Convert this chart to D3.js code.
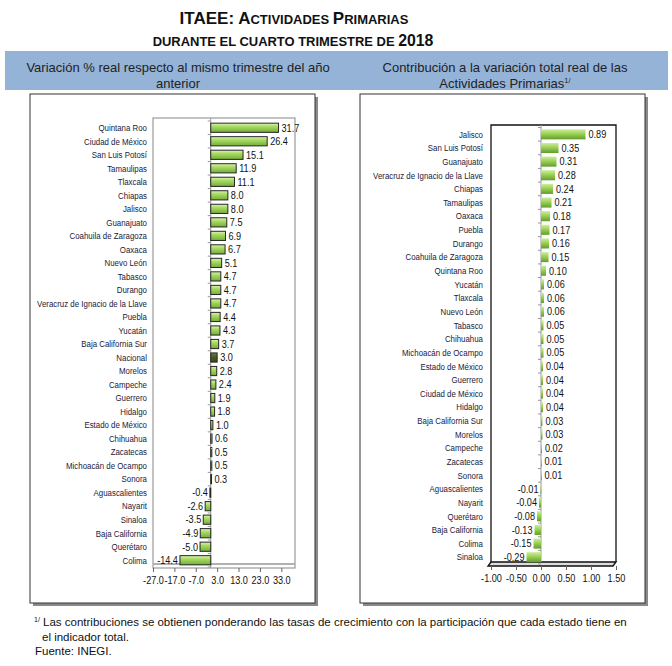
<!DOCTYPE html>
<html>
<head>
<meta charset="utf-8">
<script src="https://cdn.jsdelivr.net/npm/d3@7"></script>
<style>
  body { margin: 0; background: #fff; }
  svg { display: block; }
</style>
</head>
<body>
<svg id="chart" width="672" height="666"></svg>
<script>
// left panel: variación % real
const leftStates = ["Quintana Roo","Ciudad de México","San Luis Potosí","Tamaulipas","Tlaxcala","Chiapas","Jalisco","Guanajuato","Coahuila de Zaragoza","Oaxaca","Nuevo León","Tabasco","Durango","Veracruz de Ignacio de la Llave","Puebla","Yucatán","Baja California Sur","Nacional","Morelos","Campeche","Guerrero","Hidalgo","Estado de México","Chihuahua","Zacatecas","Michoacán de Ocampo","Sonora","Aguascalientes","Nayarit","Sinaloa","Baja California","Querétaro","Colima"]
const leftValues = [31.7,26.4,15.1,11.9,11.1,8.0,8.0,7.5,6.9,6.7,5.1,4.7,4.7,4.7,4.4,4.3,3.7,3.0,2.8,2.4,1.9,1.8,1.0,0.6,0.5,0.5,0.3,-0.4,-2.6,-3.5,-4.9,-5.0,-14.4]
const leftTicks = [-27,-17,-7,3,13,23,33]

// right panel: contribución
const rightStates = ["Jalisco","San Luis Potosí","Guanajuato","Veracruz de Ignacio de la Llave","Chiapas","Tamaulipas","Oaxaca","Puebla","Durango","Coahuila de Zaragoza","Quintana Roo","Yucatán","Tlaxcala","Nuevo León","Tabasco","Chihuahua","Michoacán de Ocampo","Estado de México","Guerrero","Ciudad de México","Hidalgo","Baja California Sur","Morelos","Campeche","Zacatecas","Sonora","Aguascalientes","Nayarit","Querétaro","Baja California","Colima","Sinaloa"]
const rightValues = [0.89,0.35,0.31,0.28,0.24,0.21,0.18,0.17,0.16,0.15,0.10,0.06,0.06,0.06,0.05,0.05,0.05,0.04,0.04,0.04,0.04,0.03,0.03,0.02,0.01,0.01,-0.01,-0.04,-0.08,-0.13,-0.15,-0.29]
const rightTicks = [-1,-0.5,0,0.5,1,1.5]

const FONT = "'Liberation Sans',Arial,sans-serif"
const NX = 0.83   // horizontal squeeze, stands in for Arial Narrow
const loc = d3.formatLocale({decimal:".", thousands:",", grouping:[3], currency:["$",""], minus:"-"})
const svg = d3.select("#chart")
const defs = svg.append("defs")

function grad(id, stops){
  const g = defs.append("linearGradient").attr("id",id)
    .attr("x1",0).attr("y1",0).attr("x2",0).attr("y2",1)
  stops.forEach(s => g.append("stop").attr("offset",s[0]).attr("stop-color",s[1]))
}
grad("gLeft", [["0%","#dff5b5"],["35%","#a9dc66"],["100%","#74ad35"]])
grad("gNac", [["0%","#6f8240"],["40%","#4e5f24"],["100%","#3a4718"]])
grad("gRight", [["0%","#cdeea0"],["45%","#9bd155"],["100%","#629d2b"]])

/*
title and header band
*/
const title1 = svg.append("text").attr("x",294).attr("y",24).attr("text-anchor","middle")
  .style("font-family",FONT).style("font-weight","bold").attr("fill","#111")
;[["ITAEE: A",17],["CTIVIDADES ",13],["P",17],["RIMARIAS",13]].forEach(p =>
  title1.append("tspan").style("font-size",p[1]+"px").text(p[0]))
const title2 = svg.append("text").attr("transform","translate(293,46) scale(0.96,1)").attr("text-anchor","middle")
  .style("font-family",FONT).style("font-weight","bold").attr("fill","#111")
;[["DURANTE EL CUARTO TRIMESTRE DE ",13.5],["2018",16.5]].forEach(p =>
  title2.append("tspan").style("font-size",p[1]+"px").text(p[0]))

svg.append("rect").attr("x",5).attr("y",51).attr("width",663).attr("height",39).attr("fill","#95b3d7")

function header(x, lines){
  lines.forEach((l,i) => {
    const t = svg.append("text").attr("x",x).attr("y",72+i*16).attr("text-anchor","middle")
      .style("font-family",FONT).style("font-size","13px").attr("fill","#222")
    t.append("tspan").text(l[0])
    if(l[1]) t.append("tspan").attr("dy",-5).style("font-size","7.5px").text(l[1])
  })
}
header(178, [["Variación % real respecto al mismo trimestre del año"],["anterior"]])
header(505, [["Contribución a la variación total real de las"],["Actividades Primarias","1/"]])

// panel boxes with shadow
function box(x0,x1,y0,y1){
  svg.append("rect").attr("x",x0+3).attr("y",y0+3).attr("width",x1-x0).attr("height",y1-y0)
    .attr("fill","#8a8a8a")
  svg.append("rect").attr("x",x0).attr("y",y0).attr("width",x1-x0).attr("height",y1-y0)
    .attr("fill","#fff").attr("stroke","#333").attr("stroke-width",1)
}
box(30,315,94,603)
box(360,645,94,603)

/*
bar chart drawing
*/
function drawBars(opt){
  const g = svg.append("g")
  const x = d3.scaleLinear().domain(opt.domain).range([opt.left, opt.right])
  const y = d3.scaleBand().domain(opt.states).range([opt.bandTop, opt.bandBottom]).paddingInner(opt.pad).paddingOuter(opt.pad/2)
  const x0 = x(0)

  // frame
  if(opt.threeD){
    g.append("path").attr("d",`M${opt.left},${opt.bottom} L${opt.left},${opt.top} L${opt.right},${opt.top} L${opt.right},${opt.bottom}`)
      .attr("fill","none").attr("stroke","#111").attr("stroke-width",1.3)
    g.append("path").attr("d",`M${opt.left},${opt.bottom} L${opt.left-3},${opt.bottom+4} L${opt.right-3},${opt.bottom+4} L${opt.right},${opt.bottom} Z`)
      .attr("fill","#ddd").attr("stroke","#111").attr("stroke-width",1.3)
  } else {
    g.append("rect").attr("x",opt.left).attr("y",opt.top).attr("width",opt.right-opt.left).attr("height",opt.bottom-opt.top)
      .attr("fill","none").attr("stroke","#9a9a9a").attr("stroke-width",1.2)
    g.append("line").attr("x1",opt.left).attr("x2",opt.right).attr("y1",opt.bottom-4).attr("y2",opt.bottom-4)
      .attr("stroke","#b0b0b0").attr("stroke-width",2)
  }
  // zero line + category ticks
  g.append("line").attr("x1",x0).attr("x2",x0).attr("y1",opt.top).attr("y2",opt.bottom)
    .attr("stroke","#999").attr("stroke-width",1)
  const step = y.step()
  d3.range(opt.states.length+1).forEach(i => {
    const yy = opt.bandTop + i*step
    g.append("line").attr("x1",x0-3).attr("x2",x0).attr("y1",yy).attr("y2",yy).attr("stroke","#999")
  })

  const data = opt.states.map((s,i) => ({state:s, value:opt.values[i]}))
  g.selectAll(".bar").data(data).enter().append("rect")
    .attr("class","bar")
    .attr("x",d => Math.min(x(d.value), x0))
    .attr("y",d => y(d.state))
    .attr("width",d => Math.max(Math.abs(x(d.value)-x0), 0.8))
    .attr("height",y.bandwidth())
    .attr("fill",d => d.state == "Nacional" && opt.nacional ? "url(#gNac)" : opt.fill)
    .attr("stroke",opt.outline ? "#262626" : "none")
    .attr("stroke-width",1)

  // value labels
  g.selectAll(".val").data(data).enter().append("text")
    .attr("transform",d => {
      const tx = d.value >= 0 ? x(d.value)+3 : x(d.value)-2
      return `translate(${tx},${y(d.state)+y.bandwidth()/2+3.8}) scale(${NX},1)`
    })
    .attr("text-anchor",d => d.value >= 0 ? "start" : "end")
    .style("font-family",FONT).style("font-size","11px").attr("fill","#111")
    .text(d => loc.format(opt.fmt)(d.value))

  // category labels
  g.selectAll(".cat").data(data).enter().append("text")
    .attr("transform",d => `translate(${opt.labelX},${y(d.state)+y.bandwidth()/2+3.3}) scale(${NX},1)`)
    .attr("text-anchor","end")
    .style("font-family",FONT).style("font-size","9.5px").attr("fill","#1a1a3a")
    .text(d => d.state)

  // value axis
  const axis = d3.axisBottom(x).tickValues(opt.ticks).tickSize(4).tickFormat(loc.format(opt.tickFmt))
  const ag = g.append("g").attr("transform",`translate(0,${opt.axisY})`).call(axis)
  ag.select(".domain").remove()
  ag.selectAll(".tick line").attr("stroke","#666")
  ag.selectAll(".tick text").style("font-family",FONT).style("font-size","11px").attr("fill","#111")
    .attr("dy","0.85em").attr("transform",`scale(${NX},1)`)
}

drawBars({states:leftStates, values:leftValues, domain:[-27,39.4], ticks:leftTicks,
  left:153, right:295, top:118, bottom:568, bandTop:121, bandBottom:567, pad:0.32,
  labelX:147, fill:"url(#gLeft)", outline:true, nacional:true, threeD:false,
  fmt:".1f", tickFmt:".1f", axisY:568})

drawBars({states:rightStates, values:rightValues, domain:[-1,1.5], ticks:rightTicks,
  left:491, right:616, top:125, bottom:562, bandTop:127.5, bandBottom:564, pad:0.26,
  labelX:483, fill:"url(#gRight)", outline:false, nacional:false, threeD:true,
  fmt:".2f", tickFmt:".2f", axisY:566})

/*
footnote
*/
const fn = svg.append("g").style("font-family",FONT).style("font-size","11.5px").attr("fill","#111")
const f1 = fn.append("text").attr("x",34).attr("y",626)
f1.append("tspan").style("font-size","7px").attr("dy",-4).text("1/")
f1.append("tspan").attr("dy",4).text(" Las contribuciones se obtienen ponderando las tasas de crecimiento con la participación que cada estado tiene en")
fn.append("text").attr("x",42).attr("y",641).text("el indicador total.")
fn.append("text").attr("x",35).attr("y",655).text("Fuente: INEGI.")
</script>
</body>
</html>
